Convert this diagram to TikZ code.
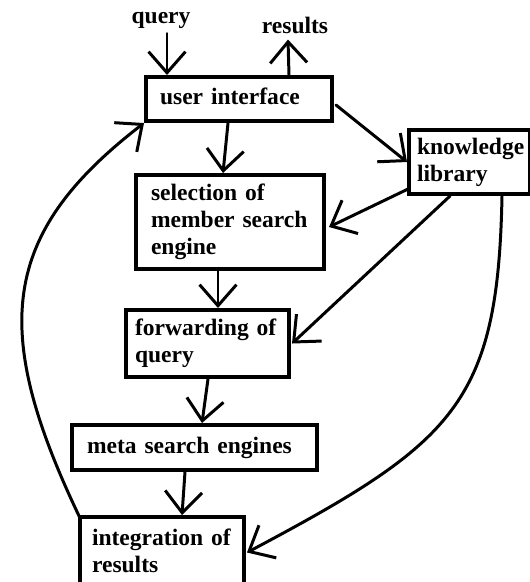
\documentclass[tikz,border=0pt]{standalone}
\usepackage{fontspec}
\setmainfont{Liberation Serif}
\usepackage{tikz}
\usetikzlibrary{
arrows.meta,
positioning,
calc
}

\begin{document}
\begin{tikzpicture}[x=0.02cm, y=-0.02cm, line width=1.7pt, line cap=round,
    box/.style={draw, rectangle, line width=2.3pt, anchor=north west, align=left,
        font=\fontsize{13.4}{15.4}\selectfont\bfseries},
    lbl/.style={font=\fontsize{13.4}{15.4}\selectfont\bfseries, inner sep=1pt},
    arr/.style={-{Straight Barb[length=12pt, width=21pt]}}]

    \useasboundingbox (0,0) rectangle (530,582);

    % ==================== BOXES ====================
    % User interface at the top
    \node [box, inner xsep=0.28cm, text width=3.16cm, text depth=0.12cm, minimum height=0.88cm] (ui) at (144,75) {user interface};

    % Knowledge library on the right
    \node [box, inner xsep=0.16cm, text width=2.1cm, minimum height=1.28cm] (kl) at (407,128) {knowledge\\library};

    % Selection of member search engine
    \node [box, inner xsep=0.3cm, text width=3.16cm, minimum height=1.88cm] (sel) at (134,173) {selection of\\member search\\engine};

    % Forwarding of query
    \node [box, inner xsep=0.18cm, text width=2.9cm, minimum height=1.34cm] (fwd) at (124,308) {forwarding of\\query};

    % Meta search engines
    \node [box, inner xsep=0.3cm, text width=4.3cm, text depth=0.1cm, minimum height=0.9cm] (meta) at (70,423) {meta search engines};

    % Integration of results at the bottom
    \node [box, inner xsep=0.24cm, text width=2.8cm, minimum height=1.34cm] (int) at (78,515) {integration of\\results};


    % ==================== LABELS ====================
    \node [lbl] (query) at (161,20) {query};
    \node [lbl] (results) at (295,25) {results};


    % ==================== CONNECTIONS ====================
    % 1. query into user interface, results out of it
    \draw [arr] ($(query.south)+(6,2)$) -- ($(ui.north west)+(23,0)$);
    \draw [arr] ($(ui.north west)+(145,0)$) -- ($(results.south)+(-7,3)$);

    % 2. user interface down to selection and across to knowledge library
    \draw [arr] ($(ui.south west)+(84,0)$) -- ($(sel.north west)+(89,0)$);
    \draw [arr] ($(ui.north east)+(2,30)$) -- (kl.west);

    % 3. knowledge library to selection and forwarding
    \draw [arr] ($(kl.south west)+(1,-7)$) -- ($(sel.east)+(3,5)$);
    \draw [arr] ($(kl.south west)+(43,0)$) -- ($(fwd.east)+(1,0)$);

    % 4. main chain downwards
    \draw [arr] ($(sel.south west)+(84,0)$) -- ($(fwd.north west)+(94,0)$);
    \draw [arr] ($(fwd.south west)+(84,0)$) -- ($(meta.north west)+(132,0)$);
    \draw [arr] ($(meta.south west)+(115,0)$) -- ($(int.north west)+(104,0)$);

    % 5. knowledge library round to integration of results
    \draw [arr] ($(kl.south west)+(95,0)$) .. controls +(-4,208) and +(207,-110) .. ($(int.east)+(1,2)$);

    % 6. integration of results back up to user interface
    \draw [arr] ($(int.north west)+(2,3)$) .. controls +(-90,-188) and +(-144,111) .. (ui.south west);

\end{tikzpicture}
\end{document}
